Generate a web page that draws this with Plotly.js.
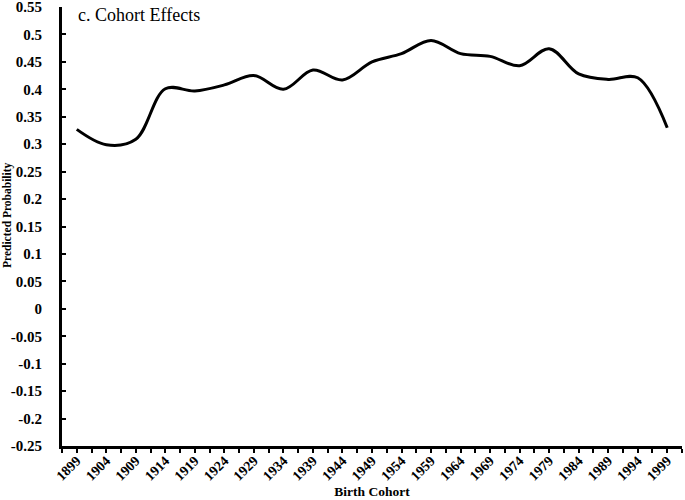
<!DOCTYPE html>
<html>
<head>
<meta charset="utf-8">
<script src="https://cdn.plot.ly/plotly-3.0.1.min.js"></script>
<style>html,body{margin:0;padding:0;background:#fff;}#chart{width:685px;height:500px;}</style>
</head>
<body>
<div id="chart"></div>
<script>
const cohorts = [1899,1904,1909,1914,1919,1924,1929,1934,1939,1944,1949,1954,1959,1964,1969,1974,1979,1984,1989,1994,1999];
const probability = [0.327,0.299,0.309,0.401,0.397,0.408,0.425,0.400,0.435,0.417,0.450,0.465,0.489,0.465,0.460,0.443,0.474,0.428,0.418,0.421,0.330];
const yTickVals = [0.55,0.5,0.45,0.4,0.35,0.3,0.25,0.2,0.15,0.1,0.05,0,-0.05,-0.1,-0.15,-0.2,-0.25];
const yTickText = ["0.55","0.5","0.45","0.4","0.35","0.3","0.25","0.2","0.15","0.1","0.05","0","-0.05","-0.1","-0.15","-0.2","-0.25"];
const xTickText = cohorts.map(String);

const font = "Liberation Serif";

const trace = {
  x: cohorts,
  y: probability,
  type: 'scatter',
  mode: 'lines',
  line: {color: '#000000', width: 3, shape: 'spline', smoothing: 1},
  hoverinfo: 'skip'
};

const layout = {
  width: 685,
  height: 500,
  margin: {l: 62, r: 3, t: 7, b: 54},
  paper_bgcolor: '#ffffff',
  plot_bgcolor: '#ffffff',
  showlegend: false,
  font: {family: font, color: '#000000'},
  title: {
    text: 'c. Cohort Effects',
    font: {family: font, size: 18, color: '#000000'},
    x: 78/685, xref: 'container', xanchor: 'left',
    y: 1 - 8/500, yref: 'container', yanchor: 'top'
  },
  xaxis: {
    range: [1896.5, 2001.5],
    tickmode: 'array',
    tickvals: cohorts,
    ticktext: xTickText.map(t => '<b>' + t + '</b>'),
    tickangle: -45,
    ticks: 'outside',
    ticklen: 4,
    tickwidth: 2,
    tickcolor: '#000',
    ticklabelstandoff: -6,
    ticklabeloverflow: 'allow',
    minor: {tick0: 1896.5, dtick: 2.5, ticks: 'outside', ticklen: 4, tickwidth: 2, tickcolor: '#000'},
    showline: true,
    linewidth: 3,
    linecolor: '#000',
    showgrid: false,
    zeroline: false,
    automargin: false,
    tickfont: {family: font, size: 14, color: '#000'},
    title: {text: '<b>Birth Cohort</b>', font: {family: font, size: 13.5, color: '#000'}, standoff: 0}
  },
  yaxis: {
    range: [-0.25, 0.55],
    tickmode: 'array',
    tickvals: yTickVals,
    ticktext: yTickText.map(t => '<b>' + t + '</b>'),
    ticks: 'inside',
    ticklen: 4,
    tickwidth: 2,
    tickcolor: '#000',
    ticklabelstandoff: 14,
    ticklabeloverflow: 'allow',
    showline: true,
    linewidth: 3,
    linecolor: '#000',
    showgrid: false,
    zeroline: false,
    automargin: false,
    tickfont: {family: font, size: 15, color: '#000'}
  },
  annotations: [{
    text: '<b>Predicted Probability</b>',
    textangle: -90,
    xref: 'paper', yref: 'paper',
    x: (7 - 62) / 620, y: (446 - 215) / 439,
    xanchor: 'center', yanchor: 'middle',
    showarrow: false,
    font: {family: font, size: 11.5, color: '#000'}
  }]
};

Plotly.newPlot('chart', [trace], layout, {displayModeBar: false, staticPlot: true});
</script>
</body>
</html>
